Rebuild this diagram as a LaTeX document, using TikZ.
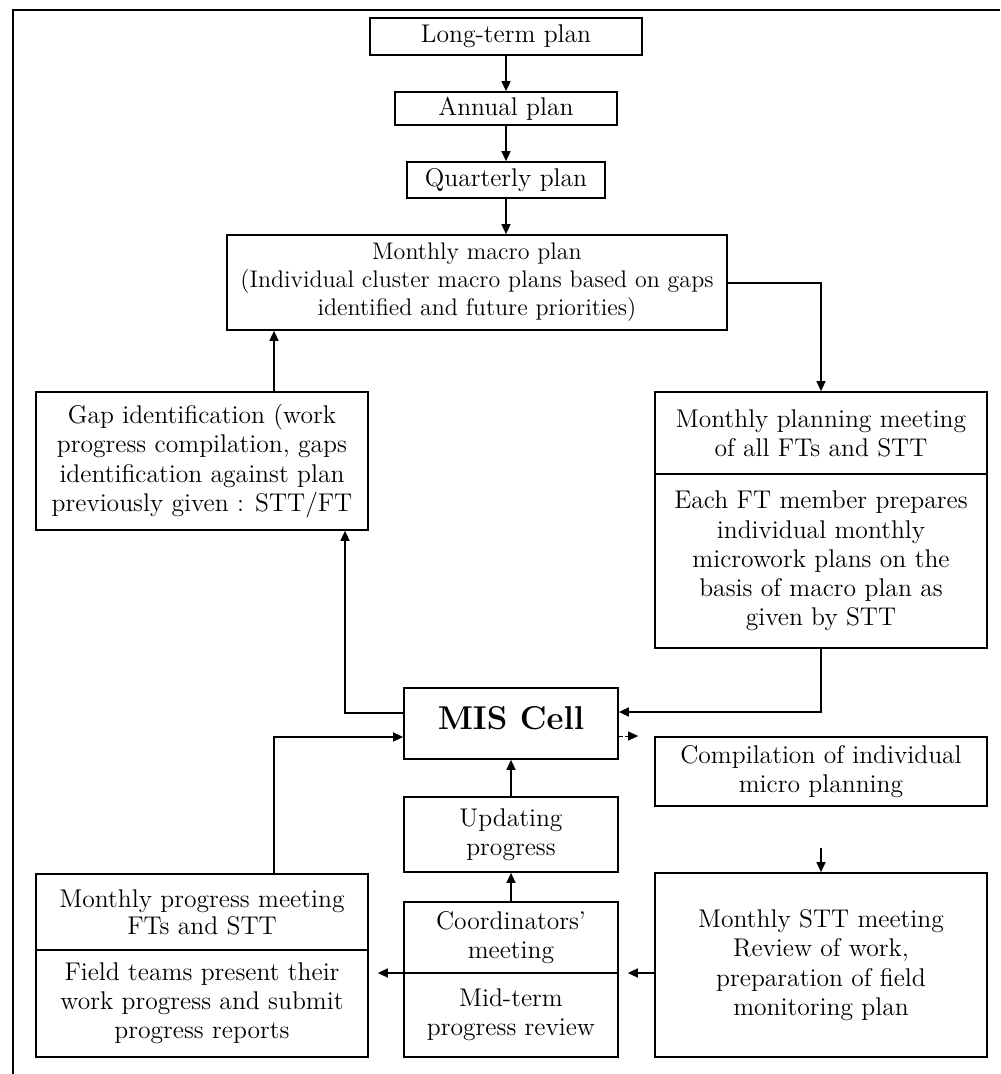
\documentclass[tikz,border=0pt]{standalone}
\usetikzlibrary{arrows.meta}
\begin{document}
\begin{tikzpicture}[x=0.5pt,y=-0.5pt,
  txt/.style={font=\fontsize{12.8}{14.6}\selectfont},
  box/.style={draw, line width=0.85pt, inner sep=0pt, align=center, txt},
  arr/.style={line width=0.7pt, -{Triangle[length=5pt,width=4.5pt]}},
  dasharr/.style={line width=0.5pt, dash pattern=on 2pt off 1pt, -{Triangle[length=5pt,width=4.5pt]}}]
\useasboundingbox (0,0) rectangle (1000,1074);
\draw[line width=1.4pt] (1000,10) -- (13,10) -- (13,1074);

% top chain
\node[box, minimum width=136pt, minimum height=18.5pt] (lt) at (506,36.5) {Long-term plan};
\node[box, minimum width=111pt, minimum height=16.5pt] (an) at (506,108.5) {Annual plan};
\node[box, minimum width=99pt, minimum height=18pt] (qt) at (506,180) {Quarterly plan};
\node[box, minimum width=250pt, minimum height=47.5pt, font=\fontsize{12}{14}\selectfont] (macro) at (477,282.5)
  {Monthly macro plan\\(Individual cluster macro plans based on gaps\\identified and future priorities)};

% middle
\node[box, minimum width=166pt, minimum height=69pt] (gap) at (202,461)
  {Gap identification (work\\progress compilation, gaps\\identification against plan\\previously given : STT/FT};
\node[box, minimum width=166pt, minimum height=41pt] (mpm1) at (821,433)
  {Monthly planning meeting\\of all FTs and STT};
\node[box, minimum width=166pt, minimum height=87pt] (mpm2) at (821,561)
  {Each FT member prepares\\individual monthly\\microwork plans on the\\basis of macro plan as\\given by STT};

\node[box, minimum width=107pt, minimum height=35.5pt, text depth=6pt,
  font=\fontsize{16.5}{19}\selectfont\bfseries] (mis) at (511,723.5) {MIS Cell};
\node[box, minimum width=166pt, minimum height=34.5pt] (comp) at (821,771.5)
  {Compilation of individual\\micro planning};
\node[box, minimum width=107pt, minimum height=37.5pt] (upd) at (511,834.5)
  {Updating\\progress};

% bottom
\node[box, minimum width=107pt, minimum height=35.5pt] (co1) at (511,937.5)
  {Coordinators'\\meeting};
\node[box, minimum width=107pt, minimum height=42pt] (co2) at (511,1015)
  {Mid-term\\progress review};
\node[box, minimum width=166pt, minimum height=38pt, font=\fontsize{12.8}{13.6}\selectfont] (mpr1) at (202,912)
  {Monthly progress meeting\\FTs and STT};
\node[box, minimum width=166pt, minimum height=53.5pt] (mpr2) at (202,1003.5)
  {Field teams present their\\work progress and submit\\progress reports};
\node[box, minimum width=166pt, minimum height=92pt] (stt) at (821,965)
  {Monthly STT meeting\\Review of work,\\preparation of field\\monitoring plan};

% connectors
\draw[arr] (lt) -- (an);
\draw[arr] (an) -- (qt);
\draw[arr] (qt) -- (qt.south |- macro.north);
\draw[arr] (macro.east |- 0,283) -| (mpm1.north);
\draw[arr] (gap.north -| 274,0) -- (macro.south -| 274,0);
\draw[arr] (mis.west |- 0,713) -| (gap.south -| 345,0);
\draw[arr] (mpm2.south) |- (mis.east |- 0,712);
\draw[dasharr, shorten >=8pt] (mis.east |- 0,736) -- (comp.west |- 0,736);
\draw[arr] (mpr1.north -| 274,0) |- (mis.west |- 0,737);
\draw[arr] (upd) -- (mis);
\draw[arr] (co1) -- (upd);
\draw[arr, shorten <=20.5pt] (comp) -- (stt);
\draw[arr, shorten >=4.5pt] (stt.west |- 0,973) -- (co1.east |- 0,973);
\draw[arr, shorten >=4.5pt] (co1.west |- 0,973) -- (mpr2.east |- 0,973);
\end{tikzpicture}
\end{document}
